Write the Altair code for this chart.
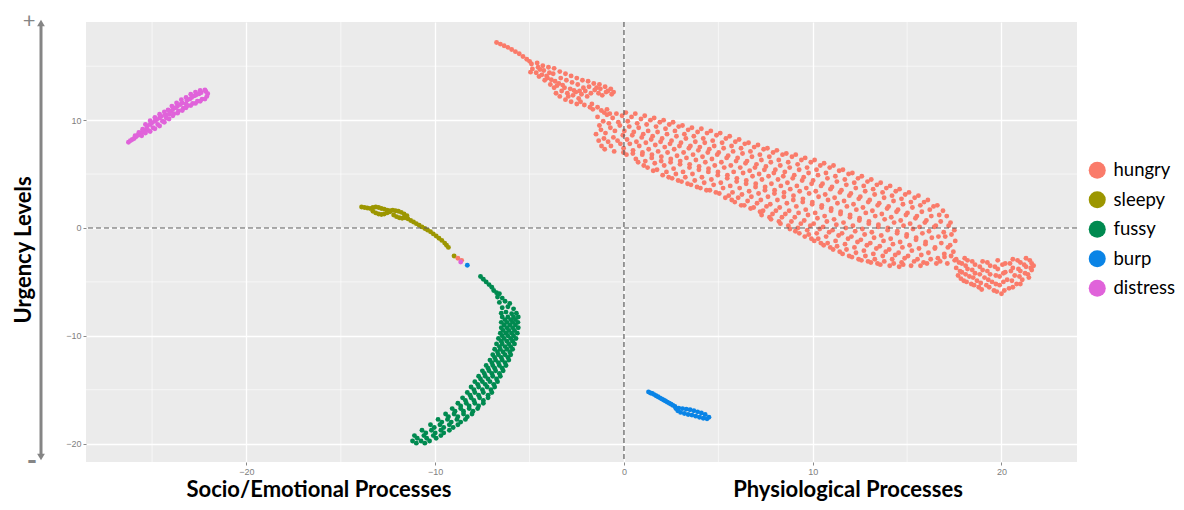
import altair as alt
import pandas as pd

categories = ["hungry", "sleepy", "fussy", "burp", "distress"]
colors = ["#FA7B6A", "#9C9600", "#008A50", "#0A84E6", "#E063DA"]

x_major = [-20, -10, 0, 10, 20]
y_major = [-20, -10, 0, 10]
x_minor = [-25, -15, -5, 5, 15]
y_minor = [-15, -5, 5, 15]

hungry_pts = [
    # tail
    (-6.75, 17.2), (-6.55, 17.05), (-6.35, 16.9), (-6.15, 16.75), (-5.95, 16.55), (-5.75, 16.35),
    (-5.55, 16.15), (-5.35, 15.9), (-5.15, 15.65), (-5.0, 15.45),
    # upper bulge
    (-4.9, 15.2), (-4.85, 14.75), (-4.95, 14.45),
    (-4.6, 15.3), (-4.55, 14.9), (-4.65, 14.4), (-4.5, 14.05),
    (-4.3, 15.05), (-4.25, 14.6), (-4.35, 14.2), (-4.2, 13.7),
    (-4.0, 14.9), (-3.95, 14.4), (-4.05, 13.9), (-3.9, 13.3),
    (-3.7, 14.8), (-3.75, 14.3), (-3.65, 13.6), (-3.7, 13.0), (-3.6, 12.5),
    (-3.4, 14.5), (-3.35, 13.9), (-3.45, 13.4), (-3.3, 12.7), (-3.4, 12.2),
    (-3.1, 14.3), (-3.05, 13.7), (-3.15, 13.0), (-3.0, 12.5), (-3.1, 11.9),
    (-2.8, 14.1), (-2.75, 13.5), (-2.85, 12.9), (-2.7, 12.3), (-2.8, 11.7),
    (-2.5, 13.9), (-2.45, 13.3), (-2.55, 12.6), (-2.4, 12.0), (-2.5, 11.5),
    (-2.2, 13.7), (-2.15, 13.0), (-2.25, 12.4), (-2.1, 11.4),
    (-1.9, 13.6), (-1.85, 13.1), (-1.95, 12.2), (-1.8, 11.2),
    (-1.6, 13.4), (-1.55, 12.8), (-1.65, 11.0),
    (-1.3, 13.3), (-1.25, 12.9), (-1.35, 12.5), (-1.2, 10.9),
    (-1.0, 13.1), (-0.95, 12.6), (-1.05, 10.7),
    (-0.7, 12.9), (-0.65, 12.4), (-0.75, 10.6),
    (-4.45, 14.7), (-4.1, 14.1), (-3.85, 13.75), (-3.55, 13.2), (-3.25, 13.25), (-2.95, 12.2),
    (-2.65, 12.75), (-2.35, 12.7), (-2.05, 12.7), (-1.75, 12.5), (-1.45, 13.0), (-1.15, 12.3),
    (-0.85, 12.7), (-0.55, 12.6), (-1.7, 11.5), (-1.4, 11.2), (-2.3, 11.7), (-0.9, 11.0),
    # main band, set A
    (-1.40, 10.3), (-1.30, 9.5), (-1.48, 8.7), (-1.34, 8.1),
    (-0.90, 10.5), (-0.80, 9.7), (-0.98, 8.8), (-0.84, 8.0), (-1.02, 7.3),
    (-0.40, 10.6), (-0.30, 9.8), (-0.48, 9.0), (-0.34, 8.1), (-0.52, 7.1),
    (0.10, 10.7), (0.20, 9.9), (0.02, 9.0), (0.16, 8.2), (-0.02, 7.4), (0.13, 6.8),
    (0.60, 10.6), (0.70, 9.7), (0.52, 8.9), (0.66, 8.0), (0.48, 7.2), (0.63, 6.4),
    (1.10, 10.4), (1.20, 9.6), (1.02, 8.7), (1.16, 7.9), (0.98, 7.0), (1.13, 6.2), (1.05, 5.8),
    (1.60, 10.2), (1.70, 9.4), (1.52, 8.5), (1.66, 7.7), (1.48, 6.8), (1.63, 6.0), (1.55, 5.3),
    (2.10, 10.0), (2.20, 9.2), (2.02, 8.3), (2.16, 7.5), (1.98, 6.6), (2.13, 5.8), (2.05, 4.9),
    (2.60, 9.8), (2.70, 9.0), (2.52, 8.1), (2.66, 7.3), (2.48, 6.4), (2.63, 5.5), (2.55, 4.6),
    (3.10, 9.5), (3.20, 8.7), (3.02, 7.9), (3.16, 7.0), (2.98, 6.2), (3.13, 5.2), (3.05, 4.3),
    (3.60, 9.3), (3.70, 8.5), (3.52, 7.6), (3.66, 6.8), (3.48, 5.9), (3.63, 5.0), (3.55, 4.0),
    (4.10, 9.2), (4.20, 8.3), (4.02, 7.5), (4.16, 6.6), (3.98, 5.7), (4.13, 4.7), (4.05, 3.7),
    (4.60, 9.0), (4.70, 8.1), (4.52, 7.3), (4.66, 6.4), (4.48, 5.5), (4.63, 4.5), (4.55, 3.5),
    (5.10, 8.8), (5.20, 7.9), (5.02, 7.0), (5.16, 6.1), (4.98, 5.2), (5.13, 4.2), (5.05, 3.2),
    (5.60, 8.5), (5.70, 7.6), (5.52, 6.7), (5.66, 5.8), (5.48, 4.9), (5.63, 3.9), (5.55, 3.0), (5.71, 2.6),
    (6.10, 8.2), (6.20, 7.4), (6.02, 6.5), (6.16, 5.6), (5.98, 4.6), (6.13, 3.7), (6.05, 2.8), (6.21, 2.1),
    (6.60, 7.9), (6.70, 7.1), (6.52, 6.2), (6.66, 5.3), (6.48, 4.4), (6.63, 3.4), (6.55, 2.5), (6.71, 1.8),
    (7.10, 7.7), (7.20, 6.8), (7.02, 5.9), (7.16, 5.0), (6.98, 4.1), (7.13, 3.2), (7.05, 2.3), (7.21, 1.5),
    (7.60, 7.4), (7.70, 6.6), (7.52, 5.7), (7.66, 4.8), (7.48, 3.8), (7.63, 2.9), (7.55, 2.0), (7.71, 1.0),
    (8.10, 7.2), (8.20, 6.3), (8.02, 5.4), (8.16, 4.5), (7.98, 3.5), (8.13, 2.6), (8.05, 1.6), (8.21, 0.6),
    (8.60, 6.9), (8.70, 6.1), (8.52, 5.2), (8.66, 4.2), (8.48, 3.3), (8.63, 2.3), (8.55, 1.3), (8.71, 0.2),
    (9.10, 6.8), (9.20, 5.9), (9.02, 4.9), (9.16, 3.9), (8.98, 3.0), (9.13, 2.0), (9.05, 1.0), (9.21, 0.0), (9.08, -0.3),
    (9.60, 6.5), (9.70, 5.6), (9.52, 4.7), (9.66, 3.7), (9.48, 2.7), (9.63, 1.7), (9.55, 0.7), (9.71, -0.2), (9.58, -0.8),
    (10.10, 6.3), (10.20, 5.4), (10.02, 4.4), (10.16, 3.4), (9.98, 2.4), (10.13, 1.4), (10.05, 0.4), (10.21, -0.5), (10.08, -1.2),
    (10.60, 6.0), (10.70, 5.1), (10.52, 4.1), (10.66, 3.1), (10.48, 2.1), (10.63, 1.1), (10.55, 0.1), (10.71, -0.8), (10.58, -1.6),
    (11.10, 5.8), (11.20, 4.8), (11.02, 3.8), (11.16, 2.8), (10.98, 1.8), (11.13, 0.8), (11.05, -0.2), (11.21, -1.2), (11.08, -2.0),
    (11.60, 5.4), (11.70, 4.5), (11.52, 3.5), (11.66, 2.5), (11.48, 1.5), (11.63, 0.5), (11.55, -0.5), (11.71, -1.5), (11.58, -2.4),
    (12.10, 5.1), (12.20, 4.2), (12.02, 3.2), (12.16, 2.2), (11.98, 1.2), (12.13, 0.2), (12.05, -0.8), (12.21, -1.8), (12.08, -2.7),
    (12.60, 4.8), (12.70, 3.9), (12.52, 2.9), (12.66, 1.9), (12.48, 0.9), (12.63, -0.1), (12.55, -1.1), (12.71, -2.1), (12.58, -3.0),
    (13.10, 4.5), (13.20, 3.6), (13.02, 2.6), (13.16, 1.6), (12.98, 0.6), (13.13, -0.4), (13.05, -1.4), (13.21, -2.4), (13.08, -3.2),
    (13.60, 4.2), (13.70, 3.3), (13.52, 2.3), (13.66, 1.3), (13.48, 0.3), (13.63, -0.7), (13.55, -1.7), (13.71, -2.6), (13.58, -3.4),
    (14.10, 3.9), (14.20, 3.0), (14.02, 2.0), (14.16, 1.0), (13.98, 0.0), (14.13, -1.0), (14.05, -2.0), (14.21, -2.9), (14.08, -3.5),
    (14.60, 3.6), (14.70, 2.7), (14.52, 1.7), (14.66, 0.7), (14.48, -0.3), (14.63, -1.3), (14.55, -2.3), (14.71, -3.2), (14.58, -3.6),
    (15.10, 3.3), (15.20, 2.4), (15.02, 1.4), (15.16, 0.4), (14.98, -0.6), (15.13, -1.6), (15.05, -2.6), (15.21, -3.5),
    (15.60, 3.0), (15.70, 2.1), (15.52, 1.1), (15.66, 0.1), (15.48, -0.9), (15.63, -1.9), (15.55, -2.9), (15.71, -3.5),
    (16.10, 2.6), (16.20, 1.7), (16.02, 0.7), (16.16, -0.3), (15.98, -1.3), (16.13, -2.3), (16.05, -3.3),
    (16.60, 2.1), (16.70, 1.2), (16.52, 0.2), (16.66, -0.8), (16.48, -1.8), (16.63, -2.8), (16.55, -3.3),
    (17.10, 1.1), (17.20, 0.2), (17.02, -0.8), (17.16, -1.8), (16.98, -2.7), (17.13, -3.3),
    (17.50, -0.2), (17.55, -1.2), (17.45, -2.2), (17.52, -3.0),
    # main band, set B
    (-1.10, 9.9), (-1.22, 9.1), (-1.06, 8.3), (-1.19, 7.6),
    (-0.60, 10.2), (-0.72, 9.3), (-0.56, 8.4), (-0.69, 7.6),
    (-0.10, 10.4), (-0.22, 9.5), (-0.06, 8.6), (-0.19, 7.8), (-0.03, 7.0),
    (0.40, 10.3), (0.28, 9.4), (0.44, 8.6), (0.31, 7.8), (0.47, 6.9),
    (0.90, 10.1), (0.78, 9.3), (0.94, 8.4), (0.81, 7.6), (0.97, 6.8), (0.75, 6.1),
    (1.40, 10.0), (1.28, 9.0), (1.44, 8.2), (1.31, 7.3), (1.47, 6.5), (1.25, 5.6),
    (1.90, 9.8), (1.78, 8.9), (1.94, 8.0), (1.81, 7.1), (1.97, 6.2), (1.75, 5.4),
    (2.40, 9.6), (2.28, 8.7), (2.44, 7.8), (2.31, 7.0), (2.47, 6.1), (2.25, 5.2), (2.37, 4.7),
    (2.90, 9.4), (2.78, 8.5), (2.94, 7.6), (2.81, 6.7), (2.97, 5.9), (2.75, 5.0), (2.87, 4.4),
    (3.40, 9.1), (3.28, 8.3), (3.44, 7.4), (3.31, 6.5), (3.47, 5.6), (3.25, 4.7), (3.37, 4.1),
    (3.90, 8.9), (3.78, 8.0), (3.94, 7.2), (3.81, 6.3), (3.97, 5.4), (3.75, 4.4), (3.87, 3.8),
    (4.40, 8.8), (4.28, 7.9), (4.44, 7.0), (4.31, 6.1), (4.47, 5.2), (4.25, 4.2), (4.37, 3.5),
    (4.90, 8.6), (4.78, 7.6), (4.94, 6.8), (4.81, 5.8), (4.97, 4.9), (4.75, 4.0), (4.87, 3.3),
    (5.40, 8.3), (5.28, 7.4), (5.44, 6.5), (5.31, 5.6), (5.47, 4.6), (5.25, 3.7), (5.37, 2.8),
    (5.90, 8.0), (5.78, 7.1), (5.94, 6.2), (5.81, 5.2), (5.97, 4.3), (5.75, 3.3), (5.87, 2.4),
    (6.40, 7.8), (6.28, 6.9), (6.44, 6.0), (6.31, 5.1), (6.47, 4.1), (6.25, 3.1), (6.37, 2.1),
    (6.90, 7.5), (6.78, 6.6), (6.94, 5.6), (6.81, 4.8), (6.97, 3.8), (6.75, 2.9), (6.87, 1.9),
    (7.40, 7.3), (7.28, 6.3), (7.44, 5.4), (7.31, 4.5), (7.47, 3.5), (7.25, 2.6), (7.37, 1.6), (7.29, 1.2),
    (7.90, 7.0), (7.78, 6.1), (7.94, 5.1), (7.81, 4.1), (7.97, 3.2), (7.75, 2.2), (7.87, 1.3), (7.79, 0.8),
    (8.40, 6.8), (8.28, 5.8), (8.44, 4.8), (8.31, 3.9), (8.47, 2.9), (8.25, 1.9), (8.37, 1.0), (8.29, 0.4),
    (8.90, 6.6), (8.78, 5.6), (8.94, 4.6), (8.81, 3.6), (8.97, 2.6), (8.75, 1.6), (8.87, 0.6), (8.79, -0.1),
    (9.40, 6.3), (9.28, 5.4), (9.44, 4.4), (9.31, 3.4), (9.47, 2.4), (9.25, 1.4), (9.37, 0.4), (9.29, -0.5),
    (9.90, 6.1), (9.78, 5.1), (9.94, 4.1), (9.81, 3.2), (9.97, 2.2), (9.75, 1.2), (9.87, 0.2), (9.79, -0.6), (9.93, -1.0),
    (10.40, 5.8), (10.28, 4.9), (10.44, 3.9), (10.31, 2.9), (10.47, 1.9), (10.25, 0.9), (10.37, -0.1), (10.29, -1.0), (10.43, -1.4),
    (10.90, 5.6), (10.78, 4.6), (10.94, 3.6), (10.81, 2.6), (10.97, 1.6), (10.75, 0.6), (10.87, -0.4), (10.79, -1.4), (10.93, -1.8),
    (11.40, 5.3), (11.28, 4.3), (11.44, 3.3), (11.31, 2.3), (11.47, 1.3), (11.25, 0.3), (11.37, -0.7), (11.29, -1.7), (11.43, -2.2),
    (11.90, 5.0), (11.78, 4.0), (11.94, 3.0), (11.81, 2.0), (11.97, 1.0), (11.75, 0.0), (11.87, -1.0), (11.79, -2.0), (11.93, -2.6),
    (12.40, 4.6), (12.28, 3.7), (12.44, 2.7), (12.31, 1.7), (12.47, 0.7), (12.25, -0.3), (12.37, -1.3), (12.29, -2.3), (12.43, -2.9),
    (12.90, 4.3), (12.78, 3.4), (12.94, 2.4), (12.81, 1.4), (12.97, 0.4), (12.75, -0.6), (12.87, -1.6), (12.79, -2.6), (12.93, -3.1),
    (13.40, 4.0), (13.28, 3.1), (13.44, 2.1), (13.31, 1.1), (13.47, 0.1), (13.25, -0.9), (13.37, -1.9), (13.29, -2.9), (13.43, -3.3),
    (13.90, 3.7), (13.78, 2.8), (13.94, 1.8), (13.81, 0.8), (13.97, -0.2), (13.75, -1.2), (13.87, -2.2), (13.79, -3.1),
    (14.40, 3.4), (14.28, 2.5), (14.44, 1.5), (14.31, 0.5), (14.47, -0.5), (14.25, -1.5), (14.37, -2.5), (14.29, -3.3),
    (14.90, 3.1), (14.78, 2.2), (14.94, 1.2), (14.81, 0.2), (14.97, -0.8), (14.75, -1.8), (14.87, -2.8), (14.79, -3.4),
    (15.40, 2.8), (15.28, 1.9), (15.44, 0.9), (15.31, -0.1), (15.47, -1.1), (15.25, -2.1), (15.37, -3.1),
    (15.90, 2.4), (15.78, 1.5), (15.94, 0.5), (15.81, -0.5), (15.97, -1.5), (15.75, -2.5), (15.87, -3.2),
    (16.40, 2.0), (16.28, 1.1), (16.44, 0.1), (16.31, -0.9), (16.47, -1.9), (16.25, -2.9),
    (16.90, 1.6), (16.78, 0.6), (16.94, -0.4), (16.81, -1.4), (16.97, -2.4), (16.75, -3.1),
    (17.30, 0.5), (17.35, -0.6), (17.28, -1.6), (17.33, -2.6),
    # end blob
    (17.6, -2.9), (17.6, -3.7), (17.7, -4.4), (17.9, -3.3), (17.9, -4.1), (18.0, -4.9), (18.2, -3.0),
    (18.2, -3.8), (18.3, -4.5), (18.4, -5.2), (18.6, -3.4), (18.6, -4.2), (18.7, -4.9), (18.8, -5.5),
    (19.0, -3.1), (19.0, -3.9), (19.1, -4.6), (19.2, -5.3), (19.4, -3.5), (19.4, -4.3), (19.5, -5.0),
    (19.6, -5.8), (19.8, -3.0), (19.8, -3.8), (19.9, -4.5), (19.9, -5.3), (20.0, -6.1), (20.2, -3.3),
    (20.2, -4.1), (20.3, -4.8), (20.4, -5.6), (20.6, -2.9), (20.6, -3.7), (20.7, -4.4), (20.8, -5.2),
    (21.0, -3.2), (21.0, -4.0), (21.1, -4.8), (21.3, -2.8), (21.3, -3.6), (21.4, -4.3), (21.6, -3.3),
    (21.6, -3.9),
    (17.75, -3.2), (17.8, -4.0), (17.85, -4.7), (18.05, -2.8), (18.1, -3.5), (18.1, -4.3), (18.15, -5.0),
    (18.45, -3.1), (18.45, -3.9), (18.5, -4.6), (18.55, -5.3), (18.85, -3.6), (18.85, -4.3), (18.9, -5.1),
    (18.95, -5.7), (19.25, -3.2), (19.25, -4.0), (19.3, -4.8), (19.35, -5.5), (19.65, -3.6), (19.7, -4.4),
    (19.7, -5.2), (19.75, -5.9), (20.05, -3.4), (20.1, -4.2), (20.1, -5.0), (20.15, -5.8), (20.45, -3.3),
    (20.5, -4.0), (20.55, -4.9), (20.6, -5.5), (20.85, -3.0), (20.9, -3.8), (20.95, -4.5), (21.0, -5.2),
    (21.2, -3.4), (21.25, -4.2), (21.5, -3.0), (21.55, -3.7), (21.45, -4.6), (21.7, -3.5),
]

sleepy_pts = [
    (-13.9, 1.95), (-13.75, 1.9), (-13.6, 1.85), (-13.45, 1.8), (-13.3, 1.9), (-13.15, 1.95), (-13.0, 1.9),
    (-12.85, 1.8), (-12.7, 1.75), (-12.55, 1.65), (-12.4, 1.5), (-13.3, 1.55), (-13.15, 1.4), (-13.0, 1.3),
    (-12.85, 1.25), (-12.7, 1.3), (-12.55, 1.4), (-12.4, 1.6), (-12.25, 1.65), (-12.1, 1.6), (-11.95, 1.55),
    (-11.8, 1.45), (-11.65, 1.3), (-11.5, 1.15), (-12.2, 1.2), (-12.05, 1.05), (-11.9, 0.95), (-11.75, 0.9),
    (-11.6, 0.95), (-11.45, 0.85), (-11.3, 0.7), (-11.15, 0.55), (-11.0, 0.4), (-10.85, 0.25), (-10.7, 0.1),
    (-10.55, -0.05), (-10.4, -0.2), (-10.25, -0.35), (-10.1, -0.55), (-9.95, -0.75), (-9.8, -0.95),
    (-9.65, -1.15), (-9.5, -1.4), (-9.4, -1.6), (-9.3, -1.8), (-9.0, -2.6),
]

fussy_head = [
    (-7.6, -4.5), (-7.45, -4.75), (-7.3, -5.0), (-7.15, -5.25), (-7.0, -5.5), (-6.9, -5.8), (-6.75, -6.0),
    (-6.6, -6.1), (-6.7, -6.4), (-6.45, -6.5), (-6.6, -6.9), (-6.3, -6.8), (-6.05, -7.0), (-6.45, -7.4),
    (-6.15, -7.3), (-5.85, -7.5), (-6.5, -7.9), (-6.25, -7.8), (-5.95, -7.95), (-5.7, -7.9),
]

fussy_rows = [
    (-8.25, [-6.45, -6.15, -5.85, -5.6]), (-8.5, [-6.3, -6.0, -5.75]),
    (-8.75, [-6.5, -6.2, -5.9, -5.62]), (-9.0, [-6.35, -6.05, -5.75]),
    (-9.25, [-6.5, -6.2, -5.9, -5.6]), (-9.5, [-6.4, -6.1, -5.8]),
    (-9.75, [-6.55, -6.25, -5.95, -5.65]), (-10.0, [-6.45, -6.15, -5.85]),
    (-10.25, [-6.65, -6.35, -6.0, -5.72]), (-10.5, [-6.5, -6.2, -5.9]),
    (-10.75, [-6.75, -6.45, -6.1, -5.8]), (-11.0, [-6.6, -6.3, -6.0]),
    (-11.25, [-6.85, -6.55, -6.2, -5.9]), (-11.5, [-6.7, -6.4, -6.05]),
    (-11.75, [-6.95, -6.65, -6.3, -6.0]), (-12.0, [-6.85, -6.5, -6.15]),
    (-12.25, [-7.1, -6.8, -6.45, -6.1]), (-12.5, [-7.0, -6.65, -6.3]),
    (-12.75, [-7.3, -6.95, -6.6, -6.25]), (-13.0, [-7.2, -6.85, -6.45]),
    (-13.25, [-7.5, -7.15, -6.8, -6.4]), (-13.5, [-7.4, -7.0, -6.6]),
    (-13.75, [-7.7, -7.35, -6.95, -6.55]), (-14.0, [-7.6, -7.2, -6.75]),
    (-14.25, [-7.9, -7.5, -7.1, -6.7]), (-14.5, [-7.75, -7.35, -6.9]),
    (-14.75, [-8.1, -7.7, -7.25, -6.85]), (-15.0, [-7.95, -7.5, -7.05]),
    (-15.25, [-8.3, -7.9, -7.45, -7.0]), (-15.5, [-8.15, -7.7, -7.2]),
    (-15.75, [-8.55, -8.1, -7.65, -7.2]), (-16.0, [-8.4, -7.95, -7.45]),
    (-16.25, [-8.8, -8.35, -7.9, -7.45]), (-16.5, [-8.65, -8.2, -7.7]),
    (-16.75, [-9.1, -8.65, -8.2, -7.75]), (-17.0, [-8.95, -8.5, -8.0]),
    (-17.25, [-9.45, -9.0, -8.5, -8.05]), (-17.5, [-9.3, -8.8, -8.3]),
    (-17.75, [-9.85, -9.35, -8.85, -8.4]), (-18.0, [-9.65, -9.15, -8.65]),
    (-18.25, [-10.25, -9.75, -9.25, -8.8]), (-18.5, [-10.05, -9.55, -9.05]),
    (-18.75, [-10.7, -10.2, -9.7, -9.25]), (-19.0, [-10.5, -10.0, -9.55]),
    (-19.25, [-11.1, -10.6, -10.1, -9.7]), (-19.5, [-10.95, -10.45, -9.95]),
    (-19.75, [-11.2, -10.75, -10.3]), (-19.95, [-11.0, -10.55]),
]

burp_pts = [
    (1.3, -15.2), (1.5, -15.35), (1.7, -15.55), (1.9, -15.75), (2.1, -15.95), (2.3, -16.15), (2.5, -16.35),
    (2.7, -16.55), (2.9, -16.7), (3.1, -16.75), (3.3, -16.8), (3.5, -16.85), (3.7, -16.95), (3.9, -17.05),
    (4.1, -17.15), (4.3, -17.3), (4.5, -17.55), (4.4, -17.7), (4.2, -17.65), (4.0, -17.55), (3.8, -17.45),
    (3.6, -17.35), (3.4, -17.3), (3.2, -17.2), (3.0, -17.1), (2.85, -16.95), (2.75, -16.75),
    (1.4, -15.3), (1.6, -15.45), (1.8, -15.65), (2.0, -15.85), (2.2, -16.05), (2.4, -16.25), (2.6, -16.45),
]

distress_pts = [
    (-26.25, 7.95), (-26.05, 8.2), (-25.85, 8.45), (-25.65, 8.7), (-25.45, 8.95),
    (-25.25, 9.45), (-25.0, 9.75), (-24.75, 10.05), (-24.5, 10.35), (-24.3, 10.5),
    (-25.3, 9.15), (-25.2, 9.05), (-24.95, 9.3), (-24.7, 9.6), (-24.45, 9.9), (-24.25, 10.2),
    (-24.1, 10.55), (-24.0, 10.8),
    (-23.9, 11.0), (-23.65, 11.3), (-23.4, 11.6), (-23.85, 10.6), (-23.6, 10.85), (-23.35, 11.1),
    (-23.2, 11.5), (-23.15, 11.85), (-22.9, 12.1), (-22.65, 12.35), (-22.4, 12.55), (-22.15, 12.65),
    (-23.1, 11.35), (-22.85, 11.55), (-22.6, 11.75), (-22.35, 11.95), (-22.1, 12.2), (-22.05, 12.45),
    (-26.15, 8.1), (-25.95, 8.3), (-25.75, 8.6), (-25.55, 8.85), (-25.1, 9.6), (-24.85, 9.9),
    (-24.6, 10.2), (-23.75, 11.15), (-23.5, 11.45), (-23.0, 11.95), (-22.75, 12.25), (-22.5, 12.45),
    (-25.9, 8.55), (-25.7, 8.85), (-25.5, 9.15), (-25.35, 9.6), (-25.1, 9.95), (-24.85, 10.25),
    (-24.6, 10.55), (-24.35, 10.75), (-24.15, 10.95), (-23.95, 11.3), (-23.7, 11.6), (-23.45, 11.9),
    (-23.2, 12.1), (-22.95, 12.4), (-22.7, 12.6), (-22.45, 12.75), (-22.2, 12.8),
    (-25.55, 8.55), (-25.35, 8.8), (-25.1, 8.95), (-24.85, 9.2), (-24.6, 9.45), (-24.35, 9.8),
    (-24.1, 10.1), (-23.9, 10.4), (-23.65, 10.65), (-23.4, 10.9), (-23.2, 11.15), (-22.95, 11.35),
    (-22.7, 11.55), (-22.45, 11.75), (-22.2, 11.95),
]

stray_pts = [("hungry", -8.8, -2.8), ("hungry", -8.6, -3.0), ("distress", -8.65, -3.15), ("burp", -8.3, -3.45)]

rows = []
for cat, pts in [("hungry", hungry_pts), ("sleepy", sleepy_pts), ("burp", burp_pts), ("distress", distress_pts)]:
    for px, py in pts:
        rows.append({"label": cat, "x": px, "y": py})
for px, py in fussy_head:
    rows.append({"label": "fussy", "x": px, "y": py})
for ry, xs_row in fussy_rows:
    for px in xs_row:
        rows.append({"label": "fussy", "x": px, "y": ry})
for cat, px, py in stray_pts:
    rows.append({"label": cat, "x": px, "y": py})
df = pd.DataFrame(rows)

x_scale = alt.Scale(domain=[-28.5, 24.0], nice=False, zero=False)
y_scale = alt.Scale(domain=[-21.7, 19.1], nice=False, zero=False)

axis_common = dict(
    title=None,
    grid=True,
    gridColor="white",
    gridWidth=1.3,
    domain=False,
    ticks=True,
    tickColor="#8a8a8a",
    tickSize=3,
    labelColor="#808080",
    labelFont="Liberation Sans",
    labelFontSize=9,
    labelPadding=2,
)
# the same axis objects are used by every layer so that the shared axes merge cleanly
x_axis = alt.Axis(values=x_major, **axis_common)
y_axis = alt.Axis(values=y_major, **axis_common)

minor_x = alt.Chart(pd.DataFrame({"x": x_minor})).mark_rule(color="white", strokeWidth=0.6).encode(
    x=alt.X("x:Q", scale=x_scale, axis=x_axis)
)
minor_y = alt.Chart(pd.DataFrame({"y": y_minor})).mark_rule(color="white", strokeWidth=0.6).encode(
    y=alt.Y("y:Q", scale=y_scale, axis=y_axis)
)

points = alt.Chart(df).mark_circle(size=24, opacity=1).encode(
    x=alt.X("x:Q", scale=x_scale, axis=x_axis),
    y=alt.Y("y:Q", scale=y_scale, axis=y_axis),
    color=alt.Color(
        "label:N",
        scale=alt.Scale(domain=categories, range=colors),
        legend=alt.Legend(
            title=None,
            orient="none",
            legendX=1002,
            legendY=139,
            padding=0,
            symbolType="circle",
            symbolSize=290,
            symbolStrokeWidth=0,
            symbolOpacity=1,
            labelFont="Lato",
            labelFontSize=18.5,
            labelColor="black",
            labelOffset=7,
            rowPadding=10.5,
        ),
    ),
)

zero_x = alt.Chart(pd.DataFrame({"x": [0]})).mark_rule(
    color="#5a5a5a", strokeDash=[5, 3], strokeWidth=1.2
).encode(x=alt.X("x:Q", scale=x_scale, axis=x_axis))
zero_y = alt.Chart(pd.DataFrame({"y": [0]})).mark_rule(
    color="#5a5a5a", strokeDash=[5, 3], strokeWidth=1.2
).encode(y=alt.Y("y:Q", scale=y_scale, axis=y_axis))

y_title = alt.Chart(pd.DataFrame({"t": ["Urgency Levels"]})).mark_text(
    angle=270, font="Lato", fontSize=22, fontWeight="bold", color="black"
).encode(text="t:N", x=alt.value(-62), y=alt.value(228))

x_title_left = alt.Chart(pd.DataFrame({"t": ["Socio/Emotional Processes"]})).mark_text(
    font="Lato", fontSize=22, fontWeight="bold", color="black"
).encode(text="t:N", x=alt.value(233), y=alt.value(468))

x_title_right = alt.Chart(pd.DataFrame({"t": ["Physiological Processes"]})).mark_text(
    font="Lato", fontSize=22, fontWeight="bold", color="black"
).encode(text="t:N", x=alt.value(762), y=alt.value(468))

arrow_line = alt.Chart(pd.DataFrame({"t": ["arrow"]})).mark_rule(
    color="#858585", strokeWidth=3
).encode(x=alt.value(-45), y=alt.value(2), y2=alt.value(434))
arrow_up = alt.Chart(pd.DataFrame({"t": ["up"]})).mark_point(
    shape="triangle-up", filled=True, size=60, color="#858585", opacity=1
).encode(x=alt.value(-45), y=alt.value(1))
arrow_down = alt.Chart(pd.DataFrame({"t": ["down"]})).mark_point(
    shape="triangle-down", filled=True, size=60, color="#858585", opacity=1
).encode(x=alt.value(-45), y=alt.value(435))

plus = alt.Chart(pd.DataFrame({"t": ["+"]})).mark_text(
    font="Lato", fontSize=22, color="#858585"
).encode(text="t:N", x=alt.value(-57), y=alt.value(-1))
minus = alt.Chart(pd.DataFrame({"t": ["-"]})).mark_text(
    font="Lato", fontSize=28, fontWeight="bold", color="#858585"
).encode(text="t:N", x=alt.value(-54), y=alt.value(440))

chart = alt.layer(
    minor_x, minor_y, points, zero_x, zero_y, y_title, x_title_left, x_title_right,
    arrow_line, arrow_up, arrow_down, plus, minus,
).properties(
    width=991,
    height=440,
    autosize=alt.AutoSizeParams(type="none"),
    padding={"left": 78, "top": 14, "right": 99, "bottom": 40},
).configure_view(
    fill="#EBEBEB", stroke=None
)

chart.save("out.html", embed_options={"renderer": "svg", "actions": False})
